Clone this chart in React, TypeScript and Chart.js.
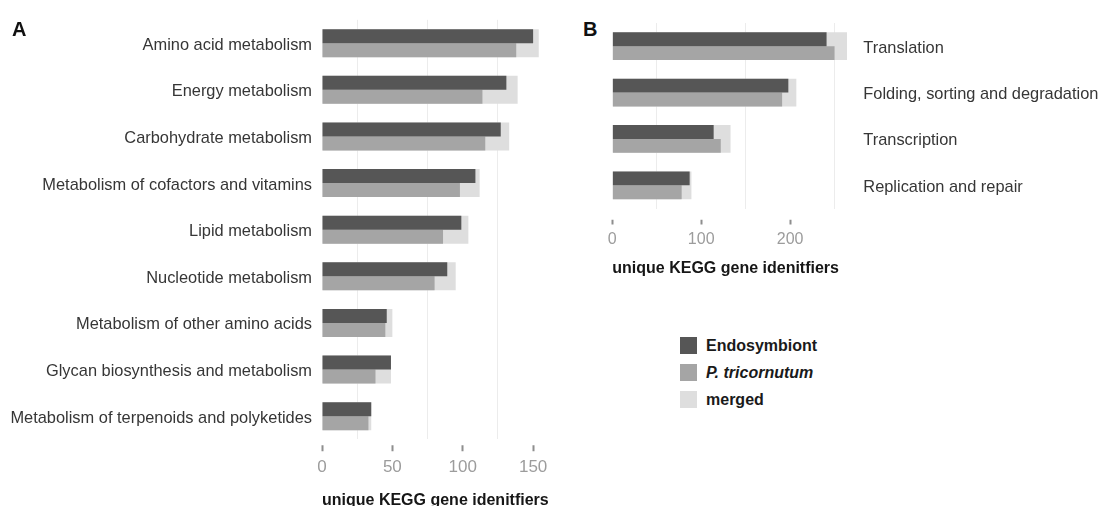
import React, { useEffect, useRef } from 'react';
import { Chart, registerables } from 'chart.js';

Chart.register(...registerables);

// ---------- data ----------
const categoriesA = [
  'Amino acid metabolism',
  'Energy metabolism',
  'Carbohydrate metabolism',
  'Metabolism of cofactors and vitamins',
  'Lipid metabolism',
  'Nucleotide metabolism',
  'Metabolism of other amino acids',
  'Glycan biosynthesis and metabolism',
  'Metabolism of terpenoids and polyketides',
];
const endosymbiontA = [150, 131, 127, 109, 99, 89, 46, 49, 35];
const tricornutumA = [138, 114, 116, 98, 86, 80, 45, 38, 33];
const mergedA = [154, 139, 133, 112, 104, 95, 50, 49, 35];

const categoriesB = [
  'Translation',
  'Folding, sorting and degradation',
  'Transcription',
  'Replication and repair',
];
const endosymbiontB = [241, 198, 114, 87];
const tricornutumB = [250, 191, 122, 78];
const mergedB = [264, 207, 133, 89];

const seriesLabels = ['Endosymbiont', 'P. tricornutum', 'merged'];
const seriesItalic = [false, true, false];
const seriesColors = ['#565656', '#a5a5a5', '#dedede'];

const axisTitle = 'unique KEGG gene idenitfiers';
const panelLetters = ['A', 'B'];

const FONT = '"Liberation Sans", Arial, Helvetica, sans-serif';

type PanelSpec = {
  left: number;
  top: number;
  width: number;
  height: number;
  categories: string[];
  endo: number[];
  pt: number[];
  merged: number[];
  padding: { top: number; left: number; right: number; bottom: number };
  yPosition: 'left' | 'right';
  yWidth: number;
  yPad: number;
  xMax: number;
  step: number;
  major: number;
  xHeight: number;
  tickLen: number;
  tickDash: number[];
  tickPad: number;
  tickFont: number;
  titlePadBottom: number;
};

function buildConfig(s: PanelSpec): any {
  return {
    type: 'bar',
    data: {
      labels: s.categories,
      datasets: [
        {
          label: seriesLabels[0],
          data: s.endo,
          backgroundColor: seriesColors[0],
          categoryPercentage: 0.6,
          barPercentage: 1,
          borderWidth: 0,
          order: 0,
        },
        {
          label: seriesLabels[1],
          data: s.pt,
          backgroundColor: seriesColors[1],
          categoryPercentage: 0.6,
          barPercentage: 1,
          borderWidth: 0,
          order: 0,
        },
        {
          label: seriesLabels[2],
          data: s.merged,
          backgroundColor: seriesColors[2],
          categoryPercentage: 0.6,
          barPercentage: 1,
          borderWidth: 0,
          grouped: false,
          order: 1,
        },
      ],
    },
    options: {
      indexAxis: 'y',
      responsive: false,
      animation: false,
      layout: { padding: s.padding },
      plugins: { legend: { display: false }, tooltip: { enabled: false } },
      scales: {
        x: {
          type: 'linear',
          min: 0,
          max: s.xMax,
          ticks: {
            stepSize: s.step,
            includeBounds: false,
            autoSkip: false,
            maxRotation: 0,
            padding: s.tickPad,
            color: '#9c9c9c',
            font: { family: FONT, size: s.tickFont },
            callback: (v: number) => (v % s.major === 0 ? String(v) : ''),
          },
          grid: {
            drawOnChartArea: true,
            color: (ctx: any) =>
              ctx.tick && ctx.tick.value % s.major !== 0 ? '#ececec' : 'rgba(0,0,0,0)',
            lineWidth: 1,
            tickColor: (ctx: any) =>
              ctx.tick && ctx.tick.value % s.major === 0 ? '#8e8e8e' : 'rgba(0,0,0,0)',
            tickLength: s.tickLen,
            tickWidth: 2,
            tickBorderDash: s.tickDash,
          },
          border: { display: false },
          title: {
            display: true,
            text: axisTitle,
            align: 'start',
            color: '#161616',
            font: { family: FONT, size: 16, weight: 'bold' },
            padding: { top: 0, bottom: s.titlePadBottom },
          },
          afterFit: (scale: any) => {
            scale.height = s.xHeight;
          },
        },
        y: {
          type: 'category',
          position: s.yPosition,
          grid: { display: false, drawTicks: false, tickLength: 0 },
          border: { display: false },
          ticks: {
            autoSkip: false,
            padding: s.yPad,
            labelOffset: 2,
            color: '#363636',
            font: { family: FONT, size: 16.4 },
          },
          afterFit: (scale: any) => {
            scale.width = s.yWidth;
          },
        },
      },
    },
  };
}

const panelA: PanelSpec = {
  left: 0,
  top: 0,
  width: 556,
  height: 520,
  categories: categoriesA,
  endo: endosymbiontA,
  pt: tricornutumA,
  merged: mergedA,
  padding: { top: 19.5, left: 0, right: 6, bottom: 0 },
  yPosition: 'left',
  yWidth: 322,
  yPad: 10,
  xMax: 162,
  step: 25,
  major: 50,
  xHeight: 80.5,
  tickLen: 12.5,
  tickDash: [0, 6.3, 6, 100],
  tickPad: 5.3,
  tickFont: 17,
  titlePadBottom: 9.6,
};

const panelB: PanelSpec = {
  left: 600,
  top: 0,
  width: 499,
  height: 300,
  categories: categoriesB,
  endo: endosymbiontB,
  pt: tricornutumB,
  merged: mergedB,
  padding: { top: 23, left: 12.3, right: 0, bottom: 0 },
  yPosition: 'right',
  yWidth: 242.2,
  yPad: 6.5,
  xMax: 275,
  step: 50,
  major: 100,
  xHeight: 91.5,
  tickLen: 16,
  tickDash: [0, 10.8, 5.5, 100],
  tickPad: 5,
  tickFont: 16,
  titlePadBottom: 22.2,
};

function Panel({ spec }: { spec: PanelSpec }) {
  const ref = useRef<HTMLCanvasElement>(null);
  useEffect(() => {
    if (!ref.current) return;
    const chart = new Chart(ref.current, buildConfig(spec));
    return () => chart.destroy();
  }, [spec]);
  return (
    <canvas
      ref={ref}
      width={spec.width}
      height={spec.height}
      style={{
        position: 'absolute',
        left: spec.left,
        top: spec.top,
        width: spec.width,
        height: spec.height,
      }}
    />
  );
}

function Legend() {
  const centers = [345.5, 372.5, 399.5];
  return (
    <>
      {seriesLabels.map((lab, i) => (
        <React.Fragment key={lab}>
          <div
            style={{
              position: 'absolute',
              left: 680,
              top: centers[i] - 8.5,
              width: 17,
              height: 17,
              background: seriesColors[i],
            }}
          />
          <div
            style={{
              position: 'absolute',
              left: 706,
              top: centers[i] - 8.5,
              height: 17,
              lineHeight: '17px',
              fontFamily: FONT,
              fontSize: 16,
              fontWeight: 'bold',
              fontStyle: seriesItalic[i] ? 'italic' : 'normal',
              color: '#1a1a1a',
              whiteSpace: 'nowrap',
            }}
          >
            {lab}
          </div>
        </React.Fragment>
      ))}
    </>
  );
}

export default function App() {
  const letterStyle: React.CSSProperties = {
    position: 'absolute',
    top: 19,
    fontFamily: FONT,
    fontSize: 20,
    fontWeight: 'bold',
    lineHeight: '20px',
    color: '#111',
  };
  return (
    <div
      style={{
        position: 'fixed',
        left: 0,
        top: 0,
        width: 1099,
        height: 506,
        overflow: 'hidden',
        background: '#fff',
      }}
    >
      <Panel spec={panelA} />
      <Panel spec={panelB} />
      <div style={{ ...letterStyle, left: 12 }}>{panelLetters[0]}</div>
      <div style={{ ...letterStyle, left: 583 }}>{panelLetters[1]}</div>
      <Legend />
    </div>
  );
}
